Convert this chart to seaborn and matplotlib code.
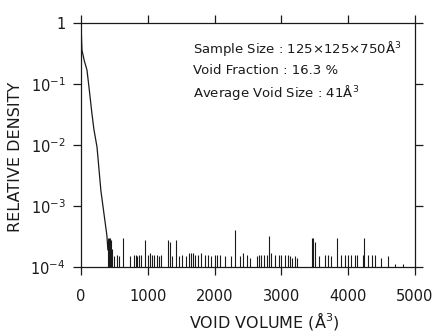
import matplotlib
matplotlib.use("Agg")
import matplotlib.pyplot as plt
import seaborn as sns
import numpy as np
import pandas as pd

# Distribution of void volumes (log density)
curve_vol = [0, 15, 50, 90, 120, 164, 194, 240, 254, 298, 343, 388, 403]
curve_dens = [1.0, 0.36, 0.24, 0.17, 0.089, 0.033, 0.018, 0.0093, 0.0063,
              0.0018, 0.00077, 0.00033, 0.00019]

# Isolated large voids: volume and relative density of each bin
spike_vol = [410, 425, 440, 455, 470, 500, 537, 577, 630, 731, 800, 820, 845,
             870, 900, 955, 1000, 1030, 1060, 1100, 1140, 1170, 1200, 1300,
             1330, 1370, 1430, 1470, 1510, 1570, 1620, 1650, 1680, 1710, 1750,
             1800, 1850, 1900, 1950, 2000, 2040, 2080, 2150, 2240, 2300, 2380,
             2420, 2480, 2530, 2630, 2670, 2700, 2740, 2790, 2820, 2850, 2900,
             2960, 3000, 3050, 3100, 3130, 3160, 3200, 3240, 3460, 3480, 3500,
             3560, 3660, 3700, 3740, 3840, 3900, 3960, 4000, 4050, 4100, 4140,
             4220, 4240, 4300, 4350, 4400, 4490, 4590, 4700, 4820]
spike_dens = [3.0e-4, 3.0e-4, 3.0e-4, 2.8e-4, 2.0e-4, 1.5e-4, 1.6e-4, 1.5e-4,
              3.0e-4, 1.5e-4, 1.6e-4, 1.6e-4, 1.5e-4, 1.6e-4, 1.6e-4, 2.8e-4,
              1.6e-4, 1.7e-4, 1.6e-4, 1.6e-4, 1.6e-4, 1.5e-4, 1.6e-4, 2.8e-4,
              2.6e-4, 1.5e-4, 2.8e-4, 1.5e-4, 1.6e-4, 1.5e-4, 1.7e-4, 1.7e-4,
              1.7e-4, 1.6e-4, 1.6e-4, 1.7e-4, 1.6e-4, 1.6e-4, 1.5e-4, 1.6e-4,
              1.6e-4, 1.6e-4, 1.5e-4, 1.5e-4, 4.0e-4, 1.5e-4, 1.7e-4, 1.6e-4,
              1.4e-4, 1.5e-4, 1.6e-4, 1.6e-4, 1.6e-4, 1.6e-4, 3.2e-4, 1.7e-4,
              1.6e-4, 1.6e-4, 1.6e-4, 1.6e-4, 1.6e-4, 1.5e-4, 1.4e-4, 1.5e-4,
              1.4e-4, 3.0e-4, 3.0e-4, 2.6e-4, 1.5e-4, 1.6e-4, 1.6e-4, 1.5e-4,
              3.0e-4, 1.6e-4, 1.6e-4, 1.6e-4, 1.6e-4, 1.6e-4, 1.6e-4, 1.6e-4,
              3.0e-4, 1.6e-4, 1.6e-4, 1.6e-4, 1.4e-4, 1.5e-4, 1.1e-4, 1.1e-4]

x_ticks = [0, 1000, 2000, 3000, 4000, 5000]
y_ticks = [1e-4, 1e-3, 1e-2, 1e-1, 1]
y_tick_labels = ["$10^{-4}$", "$10^{-3}$", "$10^{-2}$", "$10^{-1}$", "1"]
info_lines = ["Sample Size : 125\u00d7125\u00d7750\u00c5$^3$",
              "Void Fraction : 16.3 %",
              "Average Void Size : 41\u00c5$^3$"]

sns.set_style("ticks")
plt.rcParams["font.family"] = ["DejaVu Sans"]
plt.rcParams["mathtext.default"] = "regular"

ink = "#1a1a1a"
fig = plt.figure(figsize=(4.4, 3.34), dpi=100)
ax = fig.add_axes([0.184, 0.2006, 0.759, 0.7304])

ax.set_yscale("log")
ax.set_xlim(0, 5000)
ax.set_ylim(1e-4, 1)

df = pd.DataFrame({"vol": curve_vol, "dens": curve_dens})
sns.lineplot(data=df, x="vol", y="dens", ax=ax, color=ink, lw=0.9)
ax.vlines(spike_vol, ax.get_ylim()[0], spike_dens, colors=ink, lw=0.8)

ax.set_xticks(x_ticks)
ax.set_xticklabels([str(v) for v in x_ticks])
ax.set_yticks(y_ticks)
ax.set_yticklabels(y_tick_labels)
ax.yaxis.set_minor_locator(matplotlib.ticker.NullLocator())

for s in ax.spines.values():
    s.set_color(ink)
    s.set_linewidth(0.9)
ax.tick_params(which="major", direction="out", length=6, width=0.9,
               color=ink, labelcolor=ink, labelsize=10.5,
               top=True, right=True)
ax.tick_params(axis="x", pad=10)
ax.tick_params(axis="y", pad=5)

ax.set_xlabel("VOID VOLUME (\u00c5$^3$)", fontsize=11.5, color=ink)
ax.xaxis.set_label_coords(0.55, -0.175)
ax.set_ylabel("RELATIVE DENSITY", fontsize=11.5, color=ink)
ax.yaxis.set_label_coords(-0.175, 0.45)

for i, line in enumerate(info_lines):
    ax.text(0.335, 0.895 - i * 0.09, line, transform=ax.transAxes,
            fontsize=9.5, color=ink, va="center", ha="left")

fig.savefig("out.png", dpi=100)
